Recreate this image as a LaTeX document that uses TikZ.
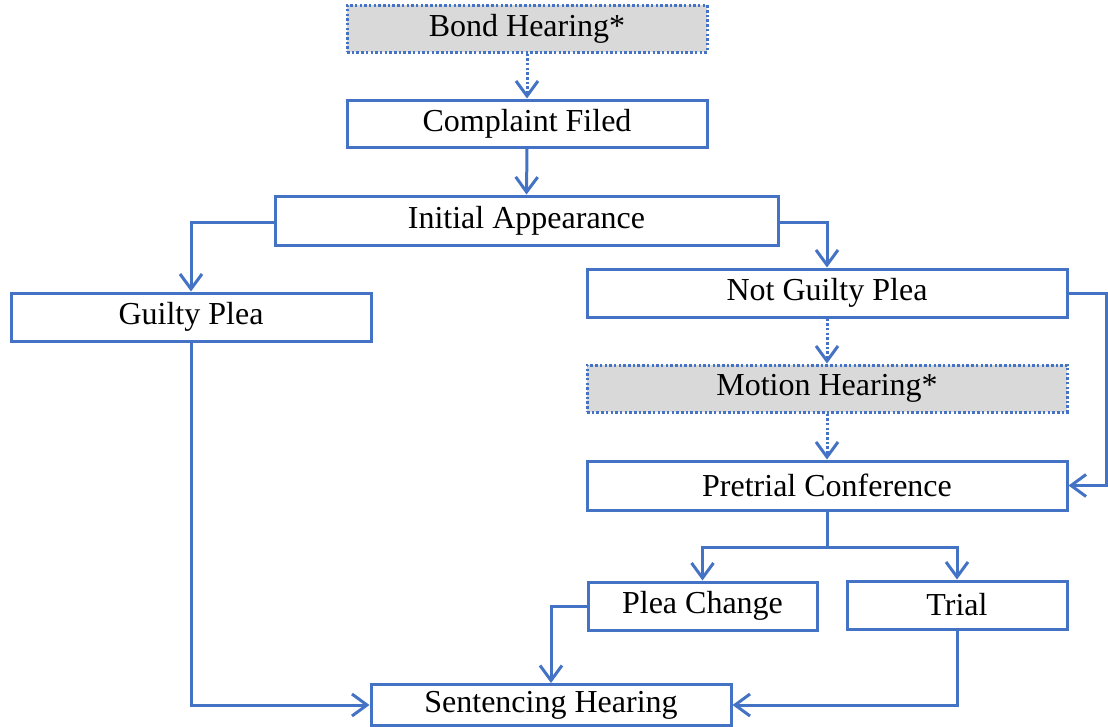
\documentclass[tikz,border=0pt]{standalone}
\usepackage{fontspec}
\setmainfont{Liberation Serif}
\usetikzlibrary{arrows.meta}
\definecolor{lnblue}{HTML}{4472C4}
\definecolor{boxgray}{HTML}{D9D9D9}
\begin{document}
\begin{tikzpicture}[x=1pt,y=-1pt,
  box/.style={draw=lnblue,line width=3pt,fill=white,rectangle,inner sep=0pt,
    font=\fontsize{32}{32}\selectfont,text=black},
  optbox/.style={box,fill=boxgray,dash pattern=on 2.5pt off 2.2pt},
  conn/.style={draw=lnblue,line width=3pt,-{Straight Barb[length=15pt,width=22pt,line width=3pt]}},
  dconn/.style={conn,dash pattern=on 2.5pt off 2.2pt}]
\useasboundingbox (0,0) rectangle (1108,726);
\node[optbox,minimum width=360pt,minimum height=47pt] (bond) at (527,28.5) {Bond Hearing*};
\node[box,minimum width=360pt,minimum height=47pt] (complaint) at (527,123.5) {Complaint Filed};
\node[box,minimum width=503pt,minimum height=49pt] (initial) at (526.5,220.5) {Initial Appearance};
\node[box,minimum width=360pt,minimum height=48pt] (guilty) at (191,317) {Guilty Plea};
\node[box,minimum width=480pt,minimum height=48pt] (notguilty) at (827,293) {Not Guilty Plea};
\node[optbox,minimum width=480pt,minimum height=47pt] (motion) at (827,388.5) {Motion Hearing*};
\node[box,minimum width=480pt,minimum height=49pt] (pretrial) at (827,485.5) {Pretrial Conference};
\node[box,minimum width=229pt,minimum height=48pt] (plea) at (702.5,606) {Plea Change};
\node[box,minimum width=220pt,minimum height=48pt] (trial) at (957,605) {Trial};
\node[box,minimum width=360pt,minimum height=41pt] (sent) at (551,705) {Sentencing Hearing};
\coordinate (rt) at (1106,293);
\draw[dconn] (bond.south) -- (complaint.north);
\draw[conn] (complaint.south) -- (initial.north);
\draw[conn] (initial.west |- 0,222) -| (guilty.north);
\draw[conn] (initial.east |- 0,222) -| (notguilty.north);
\draw[dconn] (notguilty.south) -- (motion.north);
\draw[dconn] (motion.south) -- (pretrial.north);
\draw[conn] (notguilty.east) -- (rt) |- (pretrial.east);
\draw[conn] (pretrial.south) -- (827,547) -| (plea.north);
\draw[conn] (827,547) -| (trial.north);
\draw[conn] (plea.west) -| (sent.north);
\draw[conn] (guilty.south) |- (sent.west);
\draw[conn] (trial.south) |- (sent.east);
\end{tikzpicture}
\end{document}
